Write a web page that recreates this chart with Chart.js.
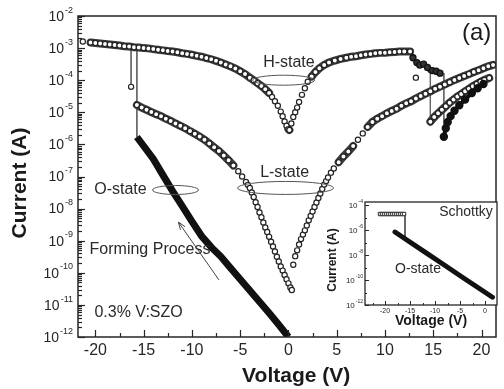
<!DOCTYPE html>
<html>
<head>
<meta charset="utf-8">
<script src="https://cdn.jsdelivr.net/npm/chart.js@4.4.0/dist/chart.umd.min.js"></script>
<style>
  body { margin: 0; background: #fff; }
  #wrap { position: relative; width: 504px; height: 389px; }
  #main { position: absolute; left: 0; top: 0; }
  #inset { position: absolute; left: 322px; top: 186px; }
</style>
</head>
<body>
<div id="wrap">
  <canvas id="main" width="504" height="389"></canvas>
  <canvas id="inset" width="182" height="146"></canvas>
</div>
<script>
const FONT = '"Liberation Sans", Arial, Helvetica, sans-serif';
const INK = '#262626';

// ---- main panel (V, A) ----
const hStateV = [-21.3,-20.5,-20,-19.5,-19,-18.5,-18,-17.5,-17,-16.5,-16,-15.5,-15,-14.5,-14,-13.5,-13,-12.5,-12,-11.5,
  -11,-10.5,-10,-9.5,-9,-8.5,-8,-7.5,-7,-6.5,-6,-5.5,-5,-4.5,-4,-3.6,-3.2,-2.8,-2.4,-2.0,-1.7,-1.4,-1.1,-0.8,-0.6,-0.4,-0.2,0,
  0.1,0.3,0.5,0.7,0.9,1.1,1.4,1.7,2.0,2.4,2.8,3.2,3.7,4.2,4.8,5.4,6,6.5,7,7.5,8,8.5,9,9.5,10,10.5,11,11.5,12,12.6];
const hStateI = [1.6e-3,1.5e-3,1.45e-3,1.4e-3,1.35e-3,1.3e-3,1.25e-3,1.2e-3,1.15e-3,1.12e-3,1.07e-3,1.05e-3,1.0e-3,9.8e-4,9.3e-4,8.9e-4,8.5e-4,8.1e-4,7.8e-4,7.4e-4,
  6.9e-4,6.6e-4,6.2e-4,5.75e-4,5.4e-4,4.9e-4,4.5e-4,4.0e-4,3.55e-4,3.1e-4,2.7e-4,2.3e-4,1.9e-4,1.55e-4,1.2e-4,1.0e-4,8.1e-5,6.6e-5,5.2e-5,4.0e-5,3.0e-5,2.2e-5,1.6e-5,1.05e-5,7.6e-6,5.2e-6,3.8e-6,3.0e-6,
  2.8e-6,4.5e-6,7.1e-6,1.0e-5,1.4e-5,2.1e-5,3.5e-5,5.6e-5,8.9e-5,1.3e-4,1.8e-4,2.35e-4,3.0e-4,3.55e-4,4.1e-4,4.6e-4,5.0e-4,5.4e-4,5.6e-4,6.0e-4,6.3e-4,6.6e-4,6.9e-4,7.1e-4,7.2e-4,7.4e-4,7.6e-4,7.8e-4,7.9e-4,7.9e-4];

const lStateV = [-15.7,-15.2,-14.7,-14.2,-13.7,-13.2,-12.7,-12.2,-11.7,-11.2,-10.7,-10.2,-9.7,-9.2,-8.7,-8.2,-7.7,-7.2,-6.7,-6.2,
  -5.7,-5.2,-4.8,-4.4,-4.2,-4.0,-3.8,-3.6,-3.4,-3.2,-3.0,-2.8,-2.6,-2.4,-2.2,-2.0,-1.8,-1.6,-1.4,-1.2,-1.0,-0.8,-0.6,-0.4,-0.2,0.0,0.2,0.35,
  0.5,0.7,0.9,1.1,1.3,1.5,1.7,1.9,2.1,2.3,2.5,2.7,2.9,3.1,3.3,3.5,3.7,3.9,4.1,4.4,4.7,
  5.2,5.7,6.2,6.7,7.2,7.7,8.2,8.7,9.2,9.7,10.2,10.7,11.2,11.7,12.2,12.7,
  13.2,13.7,14.2,14.7,15.2,15.7,16.2,16.7,17.2,17.7,18.2,18.7,19.2,19.7,20.2,20.7,21.2];
const lStateI = [1.7e-5,1.4e-5,1.2e-5,1.02e-5,8.7e-6,7.6e-6,6.3e-6,5.4e-6,4.5e-6,3.8e-6,3.2e-6,2.6e-6,2.15e-6,1.75e-6,1.4e-6,1.07e-6,8.1e-7,6.2e-7,4.5e-7,3.2e-7,
  2.2e-7,1.45e-7,1.0e-7,6.8e-8,5.5e-8,4.4e-8,3.16e-8,2.3e-8,1.58e-8,1.12e-8,7.6e-9,5.4e-9,3.7e-9,2.6e-9,1.86e-9,1.32e-9,9.3e-10,6.6e-10,4.6e-10,3.16e-10,2.24e-10,1.58e-10,1.17e-10,8.5e-11,6.3e-11,4.7e-11,3.5e-11,2.9e-11,
  1.78e-10,3.3e-10,5.0e-10,7.6e-10,1.12e-9,1.55e-9,2.1e-9,3.0e-9,4.3e-9,5.9e-9,8.1e-9,1.12e-8,1.55e-8,2.14e-8,2.95e-8,4.1e-8,5.6e-8,7.2e-8,9.3e-8,1.32e-7,1.78e-7,
  2.8e-7,4.2e-7,6.0e-7,8.9e-7,1.4e-6,2.2e-6,3.5e-6,5.0e-6,6.3e-6,7.6e-6,9.3e-6,1.1e-5,1.3e-5,1.6e-5,1.9e-5,2.2e-5,
  2.7e-5,3.2e-5,3.8e-5,4.5e-5,5.4e-5,6.3e-5,7.4e-5,8.7e-5,1.02e-4,1.17e-4,1.35e-4,1.55e-4,1.8e-4,2.05e-4,2.35e-4,2.7e-4,3.0e-4];

// reset branch on the right (open circles) and the dark return sweep
const resetV = [14.7,15.1,15.5,15.9,16.3,16.7,17.1,17.5,17.9,18.3,18.7,19.1,19.5,19.9,20.3,20.8];
const resetI = [5.1e-6,7.1e-6,9.3e-6,1.2e-5,1.55e-5,2.0e-5,2.5e-5,3.1e-5,3.7e-5,4.5e-5,5.4e-5,6.5e-5,7.6e-5,8.9e-5,1.02e-4,1.17e-4];
const darkV = [16.1,16.3,16.5,16.8,17.2,17.7,18.3,19.0,19.6,20.2];
const darkI = [1.74e-6,3.2e-6,5.0e-6,7.6e-6,1.12e-5,1.66e-5,2.5e-5,4.0e-5,5.6e-5,7.6e-5];
const clusterV = [12.9,13.3,13.6,14.0,14.4,14.9,15.3,15.7];
const clusterI = [5.0e-4,3.55e-4,2.95e-4,3.15e-4,2.5e-4,2.0e-4,1.9e-4,1.65e-4];
const strayV = [-16.3,13.2,14.7];
const strayI = [6.2e-5,1.2e-4,2.1e-4];

// forming (O-state) sweep
const formV = [-15.7,-15,-14,-13,-12,-11,-10,-9,-8,-7,-6,-5,-4,-3,-2,-1,0];
const formI = [1.7e-6,8.9e-7,3.5e-7,1.1e-7,3.5e-8,1.2e-8,4.0e-9,1.4e-9,6.3e-10,3.2e-10,1.4e-10,6.3e-11,2.8e-11,1.26e-11,5.6e-12,2.4e-12,1.0e-12];

// vertical switching jumps
const switchV = [-16.3,-15.7,14.7,16.1];
const switchTop = [1.1e-3,1.05e-3,2.1e-4,1.65e-4];
const switchBottom = [6.2e-5,1.7e-6,5.1e-6,1.74e-6];

const xTicks = [-20,-15,-10,-5,0,5,10,15,20];
const xMinorTicks = [-17.5,-12.5,-7.5,-2.5,2.5,7.5,12.5,17.5];
const yTickExps = [-12,-11,-10,-9,-8,-7,-6,-5,-4,-3,-2];

// ---- inset data ----
const insetFlatV = [-21,-20.6,-20.2,-19.8,-19.4,-19,-18.6,-18.2,-17.8,-17.4,-17,-16.6,-16.2];
const insetFlatI = [1.9e-5,1.9e-5,1.9e-5,1.9e-5,1.9e-5,1.9e-5,1.9e-5,1.9e-5,1.9e-5,1.9e-5,1.9e-5,1.9e-5,1.9e-5];
const insetLineV = [-18,-16,-12,-8,-4,0,1.5];
const insetLineI = [6.9e-7,2.0e-7,1.7e-8,1.45e-9,1.2e-10,1.05e-11,4.2e-12];
const insetSwitchV = [-16,-16];
const insetSwitchI = [1.9e-5,2.0e-7];
const insetXTicks = [-20,-15,-10,-5,0];
const insetYTickExps = [-12,-10,-8,-6,-4];

function pts(xs, ys) { return xs.map((x, i) => ({ x: x, y: ys[i] })); }

function drawPow(ctx, exp, xRight, y, baseSize, expSize) {
  const e = '-' + Math.abs(exp);
  ctx.font = expSize + 'px ' + FONT;
  const we = ctx.measureText(e).width;
  ctx.font = baseSize + 'px ' + FONT;
  const wb = ctx.measureText('10').width;
  ctx.textAlign = 'left';
  ctx.textBaseline = 'middle';
  ctx.fillText('10', xRight - we - wb - 1, y + 1);
  ctx.font = expSize + 'px ' + FONT;
  ctx.fillText(e, xRight - we, y - baseSize * 0.42);
}

function ring(ctx, cx, cy, rx, ry) {
  ctx.beginPath();
  ctx.ellipse(cx, cy, rx, ry, 0, 0, Math.PI * 2);
  ctx.stroke();
}

// dense, flat runs of circles read as a dark band; steep ones stay separate
const BAND = '#3c3c3c';
const circleStyle = {
  showLine: true, borderWidth: 8, borderColor: BAND, borderCapStyle: 'round',
  segment: {
    borderColor: c => {
      const dx = Math.abs(c.p1.x - c.p0.x), dy = Math.abs(c.p1.y - c.p0.y);
      return (Math.hypot(dx, dy) < 7.5 && dy < 1.2 * dx) ? BAND : 'rgba(0,0,0,0)';
    }
  },
  pointStyle: 'circle', pointRadius: 2.6, pointBorderWidth: 1.2,
  pointBackgroundColor: '#fff', pointBorderColor: '#222'
};

const switchSets = switchV.map((v, i) => ({
  data: [{ x: v, y: switchTop[i] }, { x: v, y: switchBottom[i] }],
  showLine: true, borderColor: '#666', borderWidth: 1, pointRadius: 0
}));

const mainAxes = {
  id: 'mainAxes',
  beforeDraw(chart) {
    const { ctx } = chart;
    ctx.save();
    ctx.fillStyle = '#fff';
    ctx.fillRect(0, 0, chart.width, chart.height);
    ctx.restore();
  },
  afterDraw(chart) {
    const { ctx, chartArea: a, scales: { x, y } } = chart;
    ctx.save();
    ctx.strokeStyle = INK;
    ctx.lineWidth = 1.5;
    ctx.strokeRect(a.left, a.top, a.right - a.left, a.bottom - a.top);

    // log ticks on the left axis, pointing inwards
    ctx.lineWidth = 1.2;
    yTickExps.forEach(n => {
      for (let m = 1; m <= 9; m++) {
        const v = m * Math.pow(10, n);
        if (v > 1e-2 * 1.0001) break;
        const py = Math.round(y.getPixelForValue(v)) + 0.5;
        ctx.beginPath();
        ctx.moveTo(a.left, py);
        ctx.lineTo(a.left + (m === 1 ? 7 : 4), py);
        ctx.stroke();
      }
    });
    ctx.fillStyle = INK;
    yTickExps.forEach(n => drawPow(ctx, n, 73, y.getPixelForValue(Math.pow(10, n)), 14, 9));

    // x ticks pointing up
    xTicks.forEach(v => {
      const px = Math.round(x.getPixelForValue(v)) + 0.5;
      ctx.beginPath(); ctx.moveTo(px, a.bottom); ctx.lineTo(px, a.bottom - 7); ctx.stroke();
    });
    xMinorTicks.forEach(v => {
      const px = Math.round(x.getPixelForValue(v)) + 0.5;
      ctx.beginPath(); ctx.moveTo(px, a.bottom); ctx.lineTo(px, a.bottom - 4); ctx.stroke();
    });
    ctx.font = '16px ' + FONT;
    ctx.textAlign = 'center';
    ctx.textBaseline = 'middle';
    xTicks.forEach(v => ctx.fillText(String(v), x.getPixelForValue(v), a.bottom + 14));

    // axis titles
    ctx.fillStyle = '#1a1a1a';
    ctx.font = 'bold 21px ' + FONT;
    ctx.fillText('Voltage (V)', x.getPixelForValue(0.8), a.bottom + 39);
    ctx.save();
    ctx.translate(20, 183);
    ctx.rotate(-Math.PI / 2);
    ctx.fillText('Current (A)', 0, 0);
    ctx.restore();

    // annotations
    const P = (v, i) => [x.getPixelForValue(v), y.getPixelForValue(i)];
    ctx.fillStyle = '#2a2a2a';
    ctx.strokeStyle = '#555';
    ctx.lineWidth = 1;
    ctx.font = '16px ' + FONT;
    let p = P(0.05, 3.5e-4); ctx.fillText('H-state', p[0], p[1]);
    p = P(-0.5, 1.0e-4); ring(ctx, p[0], p[1], 31, 5);
    p = P(-0.4, 1.3e-7); ctx.fillText('L-state', p[0], p[1]);
    p = P(-0.3, 4.4e-8); ring(ctx, p[0], p[1], 48, 6.5);
    p = P(-17.4, 3.8e-8); ctx.fillText('O-state', p[0], p[1]);
    p = P(-11.7, 3.8e-8); ring(ctx, p[0], p[1], 23, 4.5);
    ctx.textAlign = 'left';
    p = P(-20.6, 5.1e-10); ctx.fillText('Forming Process', p[0], p[1]);
    p = P(-20.1, 5.6e-12); ctx.fillText('0.3% V:SZO', p[0], p[1]);
    ctx.textAlign = 'center';
    ctx.font = '24px ' + FONT;
    ctx.fillStyle = '#1a1a1a';
    p = P(19.5, 2.9e-3); ctx.fillText('(a)', p[0], p[1]);

    // forming arrow
    const t = P(-11.4, 3.8e-9), s = P(-7.2, 6e-11);
    ctx.strokeStyle = '#444';
    ctx.beginPath(); ctx.moveTo(s[0], s[1]); ctx.lineTo(t[0], t[1]); ctx.stroke();
    const ang = Math.atan2(t[1] - s[1], t[0] - s[0]);
    ctx.beginPath();
    ctx.moveTo(t[0] - 8 * Math.cos(ang - 0.35), t[1] - 8 * Math.sin(ang - 0.35));
    ctx.lineTo(t[0], t[1]);
    ctx.lineTo(t[0] - 8 * Math.cos(ang + 0.35), t[1] - 8 * Math.sin(ang + 0.35));
    ctx.stroke();
    ctx.restore();
  }
};

new Chart(document.getElementById('main'), {
  type: 'scatter',
  data: {
    datasets: [
      { data: pts(formV, formI), showLine: true, borderColor: '#111', borderWidth: 7, pointRadius: 0, borderCapStyle: 'butt' },
      { data: pts(darkV, darkI), showLine: true, borderColor: '#111', borderWidth: 4, pointRadius: 2.2, pointBackgroundColor: '#111', pointBorderColor: '#111' },
      { data: pts(clusterV, clusterI), showLine: false, pointRadius: 3, pointBorderWidth: 1.3, pointBackgroundColor: '#333', pointBorderColor: '#111' },
      Object.assign({ data: pts(hStateV, hStateI) }, circleStyle),
      Object.assign({ data: pts(lStateV, lStateI) }, circleStyle),
      Object.assign({ data: pts(resetV, resetI) }, circleStyle),
      Object.assign({ data: pts(strayV, strayI) }, circleStyle, { showLine: false }),
      ...switchSets
    ]
  },
  options: {
    responsive: false,
    animation: false,
    events: [],
    layout: { padding: { left: 78, top: 16, right: 1, bottom: 52 } },
    plugins: { legend: { display: false }, tooltip: { enabled: false } },
    scales: {
      x: { type: 'linear', min: -21.8, max: 21.5, display: false },
      y: { type: 'logarithmic', min: 1e-12, max: 1e-2, display: false }
    }
  },
  plugins: [mainAxes]
});

// ---- inset ----
const insetAxes = {
  id: 'insetAxes',
  beforeDraw(chart) {
    const { ctx, chartArea: a } = chart;
    ctx.save();
    ctx.fillStyle = '#fff';
    ctx.fillRect(a.left, a.top, a.right - a.left, a.bottom - a.top);
    ctx.restore();
  },
  afterDraw(chart) {
    const { ctx, chartArea: a, scales: { x, y } } = chart;
    ctx.save();
    ctx.strokeStyle = INK;
    ctx.lineWidth = 1.3;
    ctx.strokeRect(a.left, a.top, a.right - a.left, a.bottom - a.top);
    ctx.lineWidth = 1;
    insetYTickExps.forEach(n => {
      const py = Math.round(y.getPixelForValue(Math.pow(10, n))) + 0.5;
      ctx.beginPath(); ctx.moveTo(a.left, py); ctx.lineTo(a.left + 4, py); ctx.stroke();
      const pm = Math.round(y.getPixelForValue(Math.pow(10, n + 1))) + 0.5;
      if (pm > a.top) { ctx.beginPath(); ctx.moveTo(a.left, pm); ctx.lineTo(a.left + 2, pm); ctx.stroke(); }
    });
    insetXTicks.forEach(v => {
      const px = Math.round(x.getPixelForValue(v)) + 0.5;
      ctx.beginPath(); ctx.moveTo(px, a.bottom); ctx.lineTo(px, a.bottom - 4); ctx.stroke();
      const pm = Math.round(x.getPixelForValue(v - 2.5)) + 0.5;
      ctx.beginPath(); ctx.moveTo(pm, a.bottom); ctx.lineTo(pm, a.bottom - 2); ctx.stroke();
    });
    ctx.fillStyle = INK;
    insetYTickExps.forEach(n => drawPow(ctx, n, a.left - 2, y.getPixelForValue(Math.pow(10, n)), 8, 5));
    ctx.font = '7px ' + FONT;
    ctx.textAlign = 'center';
    ctx.textBaseline = 'middle';
    insetXTicks.forEach(v => ctx.fillText(String(v), x.getPixelForValue(v), a.bottom + 6));
    ctx.fillStyle = '#1a1a1a';
    ctx.font = 'bold 14px ' + FONT;
    ctx.fillText('Voltage (V)', x.getPixelForValue(-10.8), a.bottom + 16);
    ctx.save();
    ctx.translate(11, 74);
    ctx.rotate(-Math.PI / 2);
    ctx.font = 'bold 12px ' + FONT;
    ctx.fillText('Current (A)', 0, 0);
    ctx.restore();
    ctx.fillStyle = '#2a2a2a';
    ctx.font = '14px ' + FONT;
    ctx.fillText('Schottky', a.right - 31, a.top + 10);
    ctx.fillText('O-state', x.getPixelForValue(-13.4), y.getPixelForValue(8e-10));
    ctx.restore();
  }
};

new Chart(document.getElementById('inset'), {
  type: 'scatter',
  data: {
    datasets: [
      { data: pts(insetLineV, insetLineI), showLine: true, borderColor: '#111', borderWidth: 5, pointRadius: 0, borderCapStyle: 'round' },
      { data: pts(insetFlatV, insetFlatI), showLine: false, pointStyle: 'rect', pointRadius: 2.4, pointBorderWidth: 1, pointBackgroundColor: '#fff', pointBorderColor: '#2a2a2a' },
      { data: pts(insetSwitchV, insetSwitchI), showLine: true, borderColor: '#555', borderWidth: 1, pointRadius: 0 }
    ]
  },
  options: {
    responsive: false,
    animation: false,
    events: [],
    layout: { padding: { left: 43, top: 16, right: 7, bottom: 27 } },
    plugins: { legend: { display: false }, tooltip: { enabled: false } },
    scales: {
      x: { type: 'linear', min: -24, max: 2.4, display: false },
      y: { type: 'logarithmic', min: 1e-12, max: 1.74e-4, display: false }
    }
  },
  plugins: [insetAxes]
});
</script>
</body>
</html>
